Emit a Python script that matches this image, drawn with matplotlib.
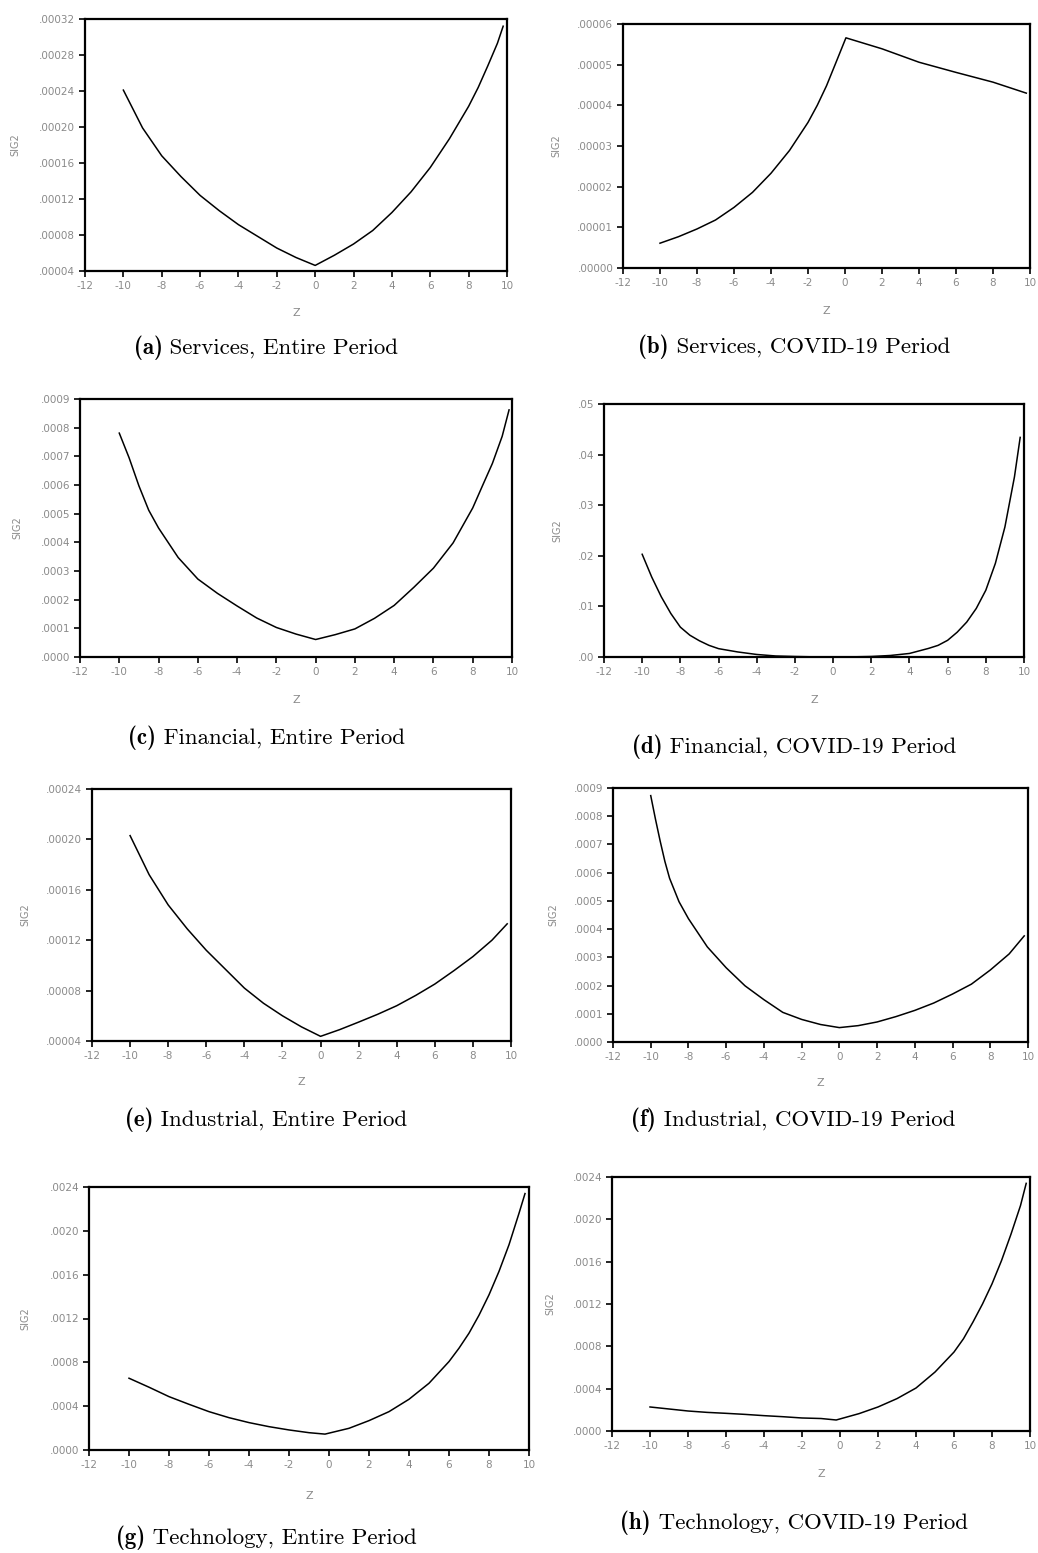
import matplotlib
matplotlib.use("Agg")
import matplotlib.pyplot as plt
from matplotlib.ticker import FuncFormatter, MultipleLocator

# news impact curves: z (shock) against SIG2 (conditional variance)
z_services_entire = [-10, -9, -8, -7, -6, -5, -4, -3, -2, -1, 0, 1, 2, 3, 4, 5, 6, 7, 8, 8.5, 9, 9.5, 9.8]
services_entire = [0.000241, 0.000199, 0.000168, 0.000145, 0.000124, 0.000107, 0.0000915, 0.0000785,
                   0.0000655, 0.0000550, 0.0000462, 0.0000575, 0.0000700, 0.0000850, 0.000105,
                   0.000128, 0.000155, 0.000187, 0.000223, 0.000244, 0.000268, 0.000293, 0.000312]

z_services_covid = [-10, -9, -8, -7, -6, -5, -4, -3, -2, -1.5, -1, -0.5, 0.05, 2, 4, 6, 8, 9.8]
services_covid = [6.1e-6, 7.7e-6, 9.6e-6, 11.8e-6, 14.9e-6, 18.6e-6, 23.3e-6, 28.9e-6, 35.8e-6,
                  40.0e-6, 44.8e-6, 50.4e-6, 56.6e-6, 53.9e-6, 50.6e-6, 48.1e-6, 45.7e-6, 43.0e-6]

z_financial_entire = [-10, -9.5, -9, -8.5, -8, -7, -6, -5, -4, -3, -2, -1, 0, 1, 2, 3, 4, 5, 6, 7, 8,
                      8.5, 9, 9.5, 9.85]
financial_entire = [781e-6, 695e-6, 597e-6, 512e-6, 450e-6, 347e-6, 272e-6, 222e-6, 178e-6, 136e-6,
                    103e-6, 80e-6, 61e-6, 78e-6, 98e-6, 135e-6, 180e-6, 243e-6, 310e-6, 398e-6,
                    520e-6, 598e-6, 675e-6, 770e-6, 862e-6]

z_financial_covid = [-10, -9.5, -9, -8.5, -8, -7.5, -7, -6.5, -6, -5, -4, -3, -2, -1, 0, 1, 2, 3, 4,
                     5, 5.5, 6, 6.5, 7, 7.5, 8, 8.5, 9, 9.5, 9.8]
financial_covid = [0.0203, 0.0158, 0.0119, 0.0086, 0.0059, 0.0043, 0.0032, 0.0023, 0.00165, 0.0010,
                   0.0005, 0.0002, 0.0001, 0.00003, 0.00001, 0.00003, 0.0001, 0.0003, 0.0007, 0.0017,
                   0.0023, 0.0033, 0.0049, 0.0069, 0.0096, 0.0132, 0.0185, 0.0257, 0.0356, 0.0434]

z_industrial_entire = [-10, -9, -8, -7, -6, -5, -4, -3, -2, -1, 0, 1, 2, 3, 4, 5, 6, 7, 8, 9, 9.8]
industrial_entire = [0.000203, 0.000172, 0.000148, 0.000129, 0.000112, 0.0000970, 0.0000820,
                     0.0000700, 0.0000600, 0.0000512, 0.0000437, 0.0000490, 0.0000550, 0.0000612,
                     0.0000680, 0.0000762, 0.0000852, 0.0000958, 0.000107, 0.000120, 0.000133]

z_industrial_covid = [-10, -9.75, -9.5, -9.25, -9, -8.5, -8, -7, -6, -5, -4, -3, -2, -1, 0, 1, 2, 3,
                      4, 5, 6, 7, 8, 9, 9.8]
industrial_covid = [873e-6, 790e-6, 712e-6, 640e-6, 580e-6, 497e-6, 437e-6, 337e-6, 263e-6, 199e-6,
                    150e-6, 105e-6, 80e-6, 62e-6, 51e-6, 58e-6, 71e-6, 90e-6, 112e-6, 138e-6,
                    170e-6, 205e-6, 255e-6, 312e-6, 376e-6]

z_technology_entire = [-10, -9, -8, -7, -6, -5, -4, -3, -2, -1, -0.2, 1, 2, 3, 4, 5, 6, 6.5, 7,
                       7.5, 8, 8.5, 9, 9.5, 9.8]
technology_entire = [655e-6, 573e-6, 487e-6, 417e-6, 350e-6, 295e-6, 250e-6, 213e-6, 183e-6,
                     158e-6, 145e-6, 198e-6, 268e-6, 350e-6, 463e-6, 609e-6, 807e-6, 929e-6,
                     1066e-6, 1230e-6, 1416e-6, 1630e-6, 1873e-6, 2160e-6, 2340e-6]

z_technology_covid = [-10, -9, -8, -7, -6, -5, -4, -3, -2, -1, -0.2, 1, 2, 3, 4, 5, 6, 6.5, 7, 7.5,
                      8, 8.5, 9, 9.5, 9.8]
technology_covid = [227e-6, 208e-6, 189e-6, 176e-6, 167e-6, 157e-6, 145e-6, 135e-6, 123e-6,
                    118e-6, 104e-6, 164e-6, 227e-6, 306e-6, 406e-6, 557e-6, 746e-6, 872e-6,
                    1030e-6, 1200e-6, 1390e-6, 1610e-6, 1860e-6, 2130e-6, 2340e-6]

caption_tags = ["(a)", "(b)", "(c)", "(d)", "(e)", "(f)", "(g)", "(h)"]
caption_texts = [
    "Services, Entire Period",
    "Services, COVID-19 Period",
    "Financial, Entire Period",
    "Financial, COVID-19 Period",
    "Industrial, Entire Period",
    "Industrial, COVID-19 Period",
    "Technology, Entire Period",
    "Technology, COVID-19 Period",
]

W, H = 1038, 1553
GREY = "#8a8a8a"

# (x, y, ymin, ymax, ystep, decimals, box px (l, r, t, b), caption centre px, xlabel gap, ylabel gap)
panels = [
    (z_services_entire, services_entire, 0.00004, 0.00032, 0.00004, 5,
     (85, 507, 19, 271), (266, 348), 42, 70),
    (z_services_covid, services_covid, 0.0, 0.00006, 0.00001, 5,
     (623, 1030, 24, 268), (794, 347), 43, 67),
    (z_financial_entire, financial_entire, 0.0, 0.0009, 0.0001, 4,
     (80, 512, 399, 657), (266, 738), 43, 63),
    (z_financial_covid, financial_covid, 0.0, 0.05, 0.01, 2,
     (604, 1024, 404, 657), (794, 747), 43, 47),
    (z_industrial_entire, industrial_entire, 0.00004, 0.00024, 0.00004, 5,
     (92, 511, 789, 1041), (266, 1120), 41, 67),
    (z_industrial_covid, industrial_covid, 0.0, 0.0009, 0.0001, 4,
     (613, 1028, 788, 1042), (793, 1120), 41, 60),
    (z_technology_entire, technology_entire, 0.0, 0.0024, 0.0004, 4,
     (89, 529, 1187, 1450), (266, 1538), 46, 64),
    (z_technology_covid, technology_covid, 0.0, 0.0024, 0.0004, 4,
     (612, 1030, 1177, 1431), (794, 1523), 43, 62),
]


def dot_formatter(decimals):
    def fmt(v, pos):
        s = f"{v:.{decimals}f}"
        return s[1:] if s.startswith("0") else s
    return FuncFormatter(fmt)


def add_caption(fig, renderer, cx, cy, tag, text, size=16.5):
    # bold tag + roman text, centred together as one line
    t1 = fig.text(0, 1 - cy / H, tag, family="cmb10", fontsize=size, va="center")
    t2 = fig.text(0, 1 - cy / H, " " + text, family="cmr10", fontsize=size, va="center")
    w1 = t1.get_window_extent(renderer).width
    w2 = t2.get_window_extent(renderer).width
    x0 = cx - (w1 + w2) / 2
    t1.set_x(x0 / W)
    t2.set_x((x0 + w1) / W)


def main():
    plt.rcParams["axes.unicode_minus"] = False
    fig = plt.figure(figsize=(W / 100, H / 100), dpi=100)
    renderer = fig.canvas.get_renderer()

    for (xs, ys, y0, y1, ystep, dec, box, cap, xgap, ygap), tag, text in zip(
            panels, caption_tags, caption_texts):
        l, r, t, b = box
        ax = fig.add_axes([l / W, 1 - b / H, (r - l) / W, (b - t) / H])
        ax.plot(xs, ys, color="black", linewidth=1.1)
        ax.set_xlim(-12, 10)
        ax.set_ylim(y0, y1)
        ax.xaxis.set_major_locator(MultipleLocator(2))
        ax.yaxis.set_major_locator(MultipleLocator(ystep))
        ax.yaxis.set_major_formatter(dot_formatter(dec))
        ax.tick_params(direction="out", length=4, width=1.2, color="black",
                       labelcolor=GREY, labelsize=7.5, pad=3)
        for sp in ax.spines.values():
            sp.set_linewidth(1.6)

        ax.annotate("Z", xy=(0.5, 0), xycoords="axes fraction", xytext=(0, -xgap),
                    textcoords="offset pixels", ha="center", va="center",
                    color=GREY, fontsize=8)
        ax.annotate("SIG2", xy=(0, 0.5), xycoords="axes fraction", xytext=(-ygap, 0),
                    textcoords="offset pixels", ha="center", va="center",
                    rotation=90, color=GREY, fontsize=7)

        add_caption(fig, renderer, cap[0], cap[1], tag, text)

    fig.savefig("out.png", dpi=100)


if __name__ == "__main__":
    main()
